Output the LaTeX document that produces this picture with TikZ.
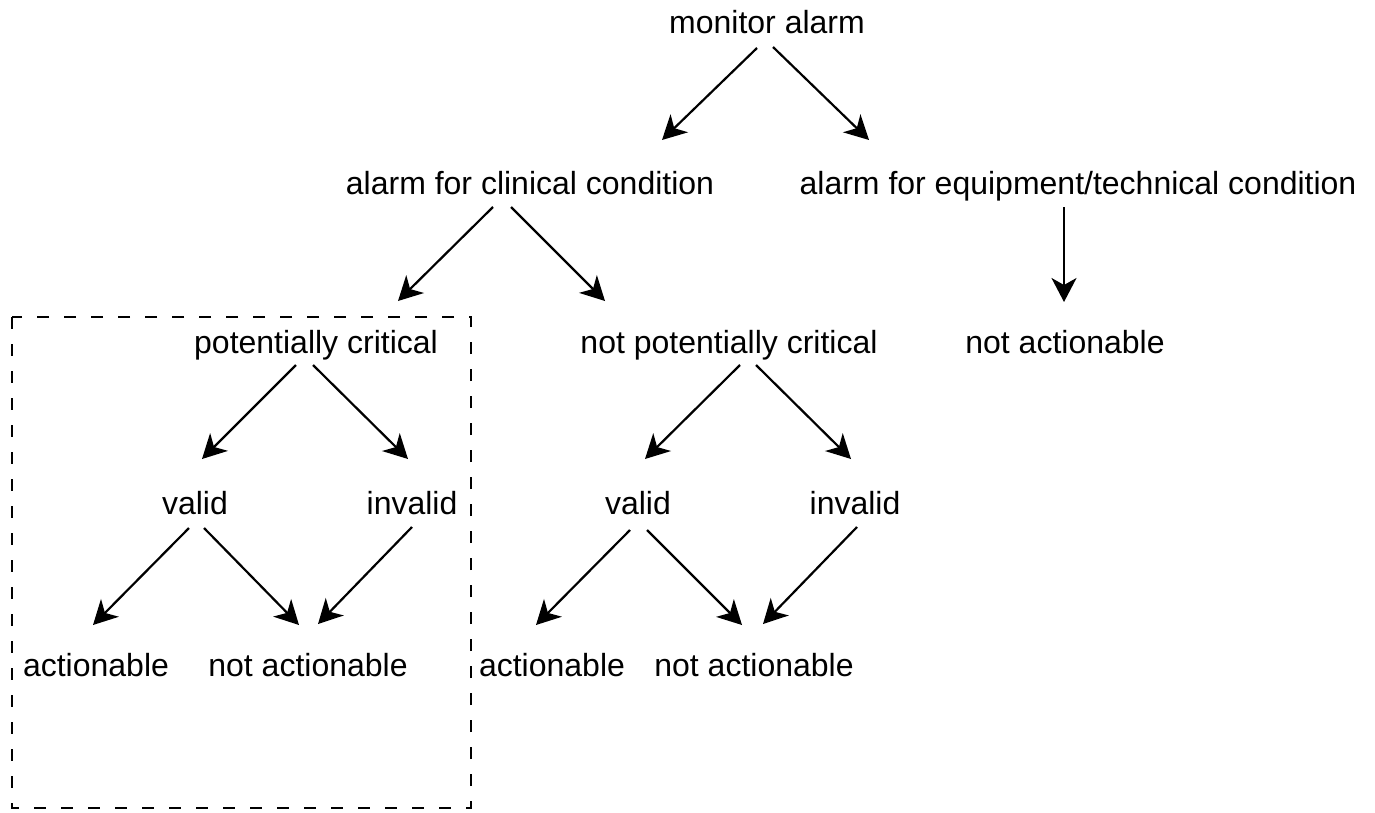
\documentclass[tikz,border=0pt]{standalone}
\usepackage{fontspec}
\setmainfont{Liberation Sans}
\usetikzlibrary{arrows.meta,calc}
\begin{document}
\begin{tikzpicture}[x=1pt,y=-1pt,
  lbl/.style={anchor=base,inner sep=0pt,font=\fontsize{32}{38}\selectfont},
  arr/.style={line width=2.2pt,-{Stealth[length=24pt,width=25pt,inset=7pt]}},
  box/.style={line width=2.4pt,dash pattern=on 12pt off 15pt}]
\useasboundingbox (0,0) rectangle (1375,812);
\node[lbl] (mon) at (767,33) {monitor alarm};
\node[lbl] (clin) at (530,194) {alarm for clinical condition};
\node[lbl] (equip) at (1078,194) {alarm for equipment/technical condition};
\node[lbl] (pc) at (316,353) {potentially critical};
\node[lbl] (npc) at (729,353) {not potentially critical};
\node[lbl] (na0) at (1065,353) {not actionable};
\node[lbl] (v1) at (195,514) {valid};
\node[lbl] (i1) at (412,514) {invalid};
\node[lbl] (v2) at (638,514) {valid};
\node[lbl] (i2) at (855,514) {invalid};
\node[lbl] (a1) at (96,676) {actionable};
\node[lbl] (n1) at (308,676) {not actionable};
\node[lbl] (a2) at (552,676) {actionable};
\node[lbl] (n2) at (754,676) {not actionable};
\draw[box] (12,317) rectangle (471,808);
\draw[arr] ($(mon.base)+(-10,15)$) -- ($(clin.base)+(132,-54)$);
\draw[arr] ($(mon.base)+(6,14)$) -- ($(equip.base)+(-209,-54)$);
\draw[arr] ($(clin.base)+(-37,13)$) -- ($(pc.base)+(82,-52)$);
\draw[arr] ($(clin.base)+(-19,13)$) -- ($(npc.base)+(-124,-52)$);
\draw[arr] ($(equip.base)+(-14,13)$) -- ($(na0.base)+(-1,-51)$);
\draw[arr] ($(pc.base)+(-20,12)$) -- ($(v1.base)+(7,-55)$);
\draw[arr] ($(pc.base)+(-3,12)$) -- ($(i1.base)+(-4,-55)$);
\draw[arr] ($(npc.base)+(11,12)$) -- ($(v2.base)+(7,-55)$);
\draw[arr] ($(npc.base)+(27,12)$) -- ($(i2.base)+(-4,-55)$);
\draw[arr] ($(v1.base)+(-6,14)$) -- ($(a1.base)+(-3,-51)$);
\draw[arr] ($(v1.base)+(9,14)$) -- ($(n1.base)+(-9,-51)$);
\draw[arr] ($(i1.base)+(0,13)$) -- ($(n1.base)+(10,-52)$);
\draw[arr] ($(v2.base)+(-8,16)$) -- ($(a2.base)+(-16,-51)$);
\draw[arr] ($(v2.base)+(9,16)$) -- ($(n2.base)+(-12,-51)$);
\draw[arr] ($(i2.base)+(2,13)$) -- ($(n2.base)+(9,-52)$);
\end{tikzpicture}
\end{document}
